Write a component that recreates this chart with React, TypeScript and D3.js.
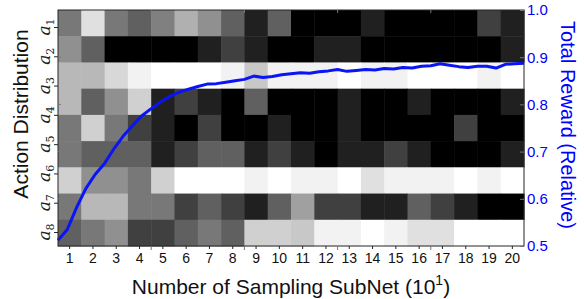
import React, { useEffect, useRef } from "react";
import * as d3 from "d3";

// column labels along the bottom (x 10^1 sampled subnets)
const columns = d3.range(1, 21).map(String);
// action labels on the left axis
const actions = ["1", "2", "3", "4", "5", "6", "7", "8"];

// gray level (0 = black, 255 = white) of each heatmap cell, one row per strip
const heatRows = [
  [120, 224, 120, 96, 128, 176, 144, 96, 32, 96, 0, 0, 0, 32, 0, 0, 0, 0, 64, 32],
  [144, 96, 0, 0, 0, 0, 32, 64, 32, 0, 0, 32, 32, 0, 0, 0, 0, 0, 0, 32],
  [184, 184, 216, 242, 255, 255, 255, 242, 200, 242, 242, 242, 255, 242, 242, 255, 255, 255, 242, 255],
  [184, 96, 144, 208, 32, 64, 32, 0, 96, 0, 0, 0, 32, 0, 0, 32, 0, 0, 0, 32],
  [120, 208, 120, 64, 32, 0, 64, 0, 0, 32, 0, 0, 32, 0, 0, 0, 0, 64, 0, 0],
  [120, 96, 96, 96, 32, 64, 96, 96, 32, 64, 32, 0, 32, 32, 64, 32, 0, 0, 0, 32],
  [208, 144, 144, 120, 208, 255, 255, 255, 242, 255, 242, 242, 255, 224, 242, 242, 242, 255, 242, 255],
  [120, 184, 184, 120, 120, 64, 96, 64, 32, 96, 160, 64, 64, 32, 32, 96, 64, 32, 0, 0],
  [96, 120, 144, 64, 64, 96, 120, 96, 208, 208, 200, 242, 242, 255, 242, 224, 224, 255, 255, 255],
];

// total reward curve: sampling step (0..200) and relative reward
const rewardSteps = [
  0, 4, 8, 12, 16, 20, 24, 28, 32, 36, 40, 44, 48, 52, 56, 60, 64, 68, 72, 76,
  80, 84, 88, 92, 96, 100, 104, 108, 112, 116, 120, 124, 128, 132, 136, 140,
  144, 148, 152, 156, 160, 164, 168, 172, 176, 180, 184, 188, 192, 196, 200,
];
const rewardValues = [
  0.512, 0.535, 0.582, 0.622, 0.652, 0.675, 0.706, 0.733, 0.755, 0.776, 0.791,
  0.805, 0.817, 0.826, 0.832, 0.838, 0.843, 0.844, 0.847, 0.850, 0.853, 0.860,
  0.857, 0.859, 0.863, 0.865, 0.867, 0.866, 0.869, 0.871, 0.874, 0.870, 0.872,
  0.874, 0.873, 0.876, 0.875, 0.878, 0.877, 0.881, 0.882, 0.886, 0.883, 0.880,
  0.878, 0.881, 0.881, 0.877, 0.885, 0.886, 0.887,
];
const rewardTicks = [0.5, 0.6, 0.7, 0.8, 0.9, 1.0];

const W = 584;
const H = 299;
const margin = { top: 10, right: 60, bottom: 53, left: 58 };

export default function App() {
  const ref = useRef<SVGSVGElement>(null);

  useEffect(() => {
    const svg = d3.select(ref.current);
    svg.selectAll("*").remove();

    const x0 = margin.left;
    const x1 = W - margin.right;
    const y0 = margin.top;
    const y1 = H - margin.bottom;

    const xBand = d3.scaleBand().domain(columns).range([x0, x1]);
    const rowBand = d3
      .scaleBand<number>()
      .domain(d3.range(heatRows.length))
      .range([y0, y1]);
    const yAction = d3
      .scalePoint()
      .domain(actions)
      .range([y0 + 17, y1 - 14]);
    const xStep = d3.scaleLinear().domain([0, 200]).range([x0, x1]);
    const yReward = d3.scaleLinear().domain([0.5, 1.0]).range([y1, y0]);

    // heatmap cells
    const cells = heatRows.flatMap((row, r) =>
      row.map((v, c) => ({ r, c, v }))
    );
    svg
      .append("g")
      .selectAll("rect")
      .data(cells)
      .enter()
      .append("rect")
      .attr("x", (d) => xBand(columns[d.c])!)
      .attr("y", (d) => rowBand(d.r)!)
      .attr("width", xBand.bandwidth() + 0.5)
      .attr("height", rowBand.bandwidth() + 0.5)
      .attr("fill", (d) => d3.rgb(d.v, d.v, d.v).toString());

    // reward line
    const line = d3
      .line<number>()
      .x((d, i) => xStep(rewardSteps[i]))
      .y((d) => yReward(d))
      .curve(d3.curveLinear);
    svg
      .append("path")
      .datum(rewardValues)
      .attr("d", line)
      .attr("fill", "none")
      .attr("stroke", "#0a14f5")
      .attr("stroke-width", 3)
      .attr("stroke-linejoin", "round");

    // frame
    svg
      .append("rect")
      .attr("x", x0)
      .attr("y", y0)
      .attr("width", x1 - x0)
      .attr("height", y1 - y0)
      .attr("fill", "none")
      .attr("stroke", "#262626")
      .attr("stroke-width", 1);

    const font = "'Liberation Sans', Arial, sans-serif";

    // bottom axis
    const xAxis = svg
      .append("g")
      .attr("transform", `translate(0,${y1})`)
      .call(d3.axisBottom(xBand).tickSize(3).tickPadding(4));
    xAxis.select(".domain").remove();
    xAxis.selectAll("line").attr("stroke", "#262626");
    xAxis
      .selectAll("text")
      .attr("font-family", font)
      .attr("font-size", 14)
      .attr("fill", "#111");

    // minor ticks from the reward overlay (top / bottom, inward)
    const stepTicks = [40, 80, 120, 160];
    svg
      .append("g")
      .selectAll("line.st")
      .data(stepTicks.flatMap((s) => [{ s, top: true }, { s, top: false }]))
      .enter()
      .append("line")
      .attr("x1", (d) => xStep(d.s))
      .attr("x2", (d) => xStep(d.s))
      .attr("y1", (d) => (d.top ? y0 : y1))
      .attr("y2", (d) => (d.top ? y0 + 3 : y1 + 4))
      .attr("stroke", "#777");

    // left action axis
    const yAxis = svg
      .append("g")
      .attr("transform", `translate(${x0},0)`)
      .call(d3.axisLeft(yAction).tickSize(4).tickFormat(() => ""));
    yAxis.select(".domain").remove();
    yAxis.selectAll("line").attr("stroke", "#262626");
    svg
      .append("g")
      .selectAll("text")
      .data(actions)
      .enter()
      .append("text")
      .attr(
        "transform",
        (d) => `translate(${x0 - 8},${yAction(d)}) rotate(-90)`
      )
      .attr("text-anchor", "middle")
      .attr("font-family", "'DejaVu Serif', 'Liberation Serif', serif")
      .attr("font-size", 17)
      .attr("fill", "#222")
      .each(function (d) {
        const t = d3.select(this);
        t.append("tspan").attr("font-style", "italic").text("a");
        t.append("tspan")
          .attr("font-size", 11)
          .attr("dy", 4)
          .text(d);
      });

    // right reward axis (ticks inward)
    const rAxis = svg
      .append("g")
      .attr("transform", `translate(${x1},0)`)
      .call(
        d3
          .axisRight(yReward)
          .tickValues(rewardTicks)
          .tickSize(-4)
          .tickPadding(3)
          .tickFormat(d3.format(".1f"))
      );
    rAxis.select(".domain").remove();
    rAxis.selectAll("line").attr("stroke", "#777");
    rAxis
      .selectAll("text")
      .attr("font-family", font)
      .attr("font-size", 15)
      .attr("fill", "#0000ff");

    // overlay reward ticks on the left side too
    svg
      .append("g")
      .selectAll("line")
      .data(rewardTicks.slice(1, 5))
      .enter()
      .append("line")
      .attr("x1", x0)
      .attr("x2", x0 + 3)
      .attr("y1", (d) => yReward(d))
      .attr("y2", (d) => yReward(d))
      .attr("stroke", "#777");

    // axis titles
    const xt = svg
      .append("text")
      .attr("x", (x0 + x1) / 2)
      .attr("y", 294)
      .attr("text-anchor", "middle")
      .attr("font-family", font)
      .attr("font-size", 21)
      .attr("fill", "#111");
    xt.append("tspan").text("Number of Sampling SubNet (10");
    xt.append("tspan").attr("font-size", 14).attr("dy", -9).text("1");
    xt.append("tspan").attr("dy", 9).text(")");

    svg
      .append("text")
      .attr("transform", `translate(28,${(y0 + y1) / 2 - 14}) rotate(-90)`)
      .attr("text-anchor", "middle")
      .attr("font-family", font)
      .attr("font-size", 21)
      .attr("fill", "#111")
      .text("Action Distribution");

    svg
      .append("text")
      .attr("transform", `translate(561,${(y0 + y1) / 2 - 3}) rotate(90)`)
      .attr("text-anchor", "middle")
      .attr("font-family", font)
      .attr("font-size", 20)
      .attr("fill", "#0000ff")
      .text("Total Reward (Relative)");
  }, []);

  return (
    <svg
      ref={ref}
      width={W}
      height={H}
      style={{ position: "fixed", left: 0, top: 0, background: "#fff" }}
    />
  );
}
